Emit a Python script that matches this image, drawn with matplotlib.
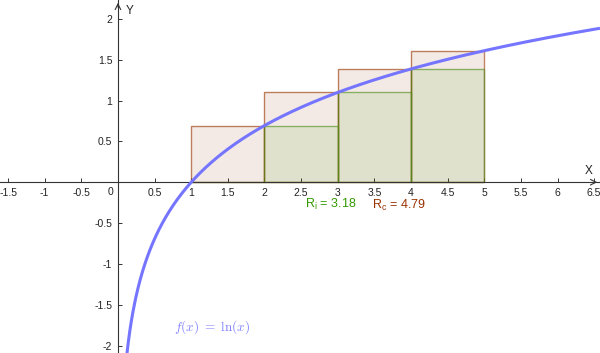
import matplotlib
matplotlib.use("Agg")
import matplotlib.pyplot as plt
import numpy as np
from matplotlib.patches import Rectangle

# Riemann sums of ln(x) on [1, 5] with 4 subintervals
left_edges = [1, 2, 3, 4]
widths = [1, 1, 1, 1]
upper_heights = [0.69, 1.10, 1.39, 1.61]
lower_heights = [0.0, 0.69, 1.10, 1.39]
lower_sum = 3.18
upper_sum = 4.79

x_ticks = [-1.5, -1, -0.5, 0.5, 1, 1.5, 2, 2.5, 3, 3.5, 4, 4.5, 5, 5.5, 6, 6.5]
y_ticks = [-2, -1.5, -1, -0.5, 0.5, 1, 1.5, 2]

XMIN, XMAX = -1.61, 6.58
YMIN, YMAX = -2.09, 2.23

UPPER_COL = "#993300"
LOWER_COL = "#339900"
CURVE_COL = "#7575ff"
AXIS_COL = "#333333"

plt.rcParams["font.family"] = ["Liberation Sans", "DejaVu Sans"]
plt.rcParams["mathtext.fontset"] = "custom"
plt.rcParams["mathtext.rm"] = "Liberation Sans"

fig = plt.figure(figsize=(6, 3.53), dpi=100)
ax = fig.add_axes([0, 0, 1, 1])
ax.set_xlim(XMIN, XMAX)
ax.set_ylim(YMIN, YMAX)

# rectangles
for x0, w, h in zip(left_edges, widths, upper_heights):
    ax.add_patch(Rectangle((x0, 0), w, h, facecolor=UPPER_COL, alpha=0.1, lw=0, zorder=1))
    ax.add_patch(Rectangle((x0, 0), w, h, facecolor="none", edgecolor=UPPER_COL, alpha=0.6, lw=1, zorder=2))
for x0, w, h in zip(left_edges, widths, lower_heights):
    ax.add_patch(Rectangle((x0, 0), w, h, facecolor=LOWER_COL, alpha=0.1, lw=0, zorder=3))
    ax.add_patch(Rectangle((x0, 0), w, h, facecolor="none", edgecolor="#4d8f1a", alpha=0.6, lw=1, zorder=4))

# curve f(x) = ln(x)
xs = np.linspace(0.12, XMAX, 600)
ax.plot(xs, np.log(xs), color=CURVE_COL, lw=2.2, zorder=6, solid_capstyle="butt")

# axes through the origin
for s in ["top", "right"]:
    ax.spines[s].set_visible(False)
ax.spines["left"].set_position(("data", 0))
ax.spines["bottom"].set_position(("data", 0))
for s in ["left", "bottom"]:
    ax.spines[s].set_color(AXIS_COL)
    ax.spines[s].set_linewidth(0.8)
    ax.spines[s].set_zorder(5)
ax.set_xticks(x_ticks)
ax.set_yticks(y_ticks)
ax.set_xticklabels([f"{t:g}" for t in x_ticks])
ax.set_yticklabels([f"{t:g}" for t in y_ticks])
ax.tick_params(direction="in", length=3, width=0.7, colors=AXIS_COL, labelsize=7.5,
               labelcolor="#222222", pad=4)
ax.text(-0.1, -0.055, "0", fontsize=7.5, color="#222222", ha="center", va="top")

# arrow heads
ax.annotate("", xy=(XMAX, 0), xytext=(XMAX - 0.12, 0),
            arrowprops=dict(arrowstyle="->", color=AXIS_COL, lw=0.8))
ax.annotate("", xy=(0, YMAX), xytext=(0, YMAX - 0.12),
            arrowprops=dict(arrowstyle="->", color=AXIS_COL, lw=0.8))
ax.text(6.42, 0.06, "X", fontsize=8.5, color="#222222", ha="center", va="bottom")
ax.text(0.1, 2.1, "Y", fontsize=8.5, color="#222222", ha="left", va="center")

# sum labels
ax.text(2.9, -0.27, r"R$_{\mathrm{i}}$ = %.2f" % lower_sum, fontsize=9,
        color=LOWER_COL, ha="center", va="center")
ax.text(3.83, -0.28, r"R$_{\mathrm{c}}$ = %.2f" % upper_sum, fontsize=9,
        color=UPPER_COL, ha="center", va="center")

ax.text(0.77, -1.77, r"$f(x)\ =\ \ln(x)$", fontsize=9.5, color="#8080ff",
        ha="left", va="center", math_fontfamily="cm")

fig.savefig("out.png", dpi=100)
